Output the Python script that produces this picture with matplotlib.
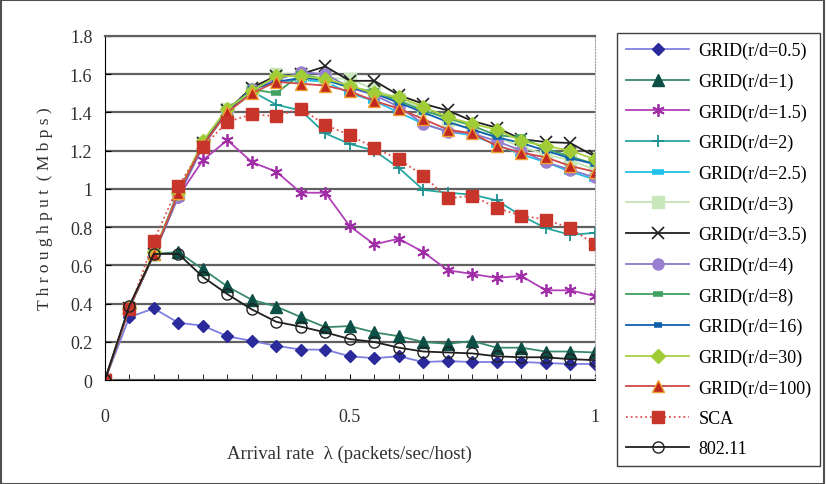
import matplotlib
matplotlib.use("Agg")
import matplotlib.pyplot as plt
from matplotlib.patches import Rectangle
from matplotlib.ticker import MultipleLocator

plt.rcParams['font.family'] = ['Liberation Serif', 'DejaVu Serif']

# Arrival rate (packets/sec/host)
rate = [0.0, 0.05, 0.1, 0.15, 0.2, 0.25, 0.3, 0.35, 0.4, 0.45, 0.5,
        0.55, 0.6, 0.65, 0.7, 0.75, 0.8, 0.85, 0.9, 0.95, 1.0]

# Throughput (Mbps) per scheme
grid_0_5 = [0, 0.33, 0.375, 0.30, 0.285, 0.23, 0.205, 0.18, 0.16, 0.16, 0.125,
            0.115, 0.125, 0.095, 0.10, 0.095, 0.095, 0.095, 0.09, 0.085, 0.085]
grid_1 = [0, 0.38, 0.66, 0.67, 0.58, 0.49, 0.42, 0.385, 0.33, 0.277, 0.283,
          0.25, 0.23, 0.20, 0.19, 0.205, 0.17, 0.17, 0.15, 0.15, 0.145]
grid_1_5 = [0, 0.38, 0.66, 0.96, 1.15, 1.255, 1.14, 1.09, 0.98, 0.98, 0.805,
            0.71, 0.74, 0.67, 0.575, 0.555, 0.535, 0.545, 0.47, 0.47, 0.44]
grid_2 = [0, 0.38, 0.66, 0.99, 1.23, 1.40, 1.51, 1.44, 1.41, 1.29, 1.235,
          1.20, 1.11, 0.995, 0.98, 0.97, 0.94, 0.86, 0.795, 0.76, 0.77]
grid_2_5 = [0, 0.38, 0.66, 0.98, 1.23, 1.41, 1.52, 1.56, 1.57, 1.56, 1.50,
            1.46, 1.40, 1.34, 1.30, 1.28, 1.23, 1.18, 1.14, 1.09, 1.05]
grid_3 = [0, 0.38, 0.66, 0.98, 1.24, 1.42, 1.52, 1.60, 1.60, 1.58, 1.575,
          1.52, 1.47, 1.42, 1.36, 1.31, 1.27, 1.22, 1.18, 1.15, 1.10]
grid_3_5 = [0, 0.38, 0.66, 0.97, 1.24, 1.41, 1.53, 1.59, 1.60, 1.64, 1.565,
            1.565, 1.49, 1.445, 1.41, 1.355, 1.32, 1.26, 1.245, 1.24, 1.17]
grid_4 = [0, 0.38, 0.66, 0.96, 1.22, 1.41, 1.52, 1.57, 1.61, 1.60, 1.53,
          1.49, 1.43, 1.34, 1.30, 1.29, 1.25, 1.20, 1.14, 1.10, 1.06]
grid_8 = [0, 0.38, 0.66, 0.98, 1.24, 1.41, 1.52, 1.50, 1.60, 1.57, 1.53,
          1.51, 1.46, 1.41, 1.37, 1.33, 1.28, 1.27, 1.21, 1.17, 1.13]
grid_16 = [0, 0.38, 0.66, 0.98, 1.23, 1.41, 1.52, 1.56, 1.58, 1.57, 1.53,
           1.50, 1.45, 1.40, 1.35, 1.31, 1.27, 1.24, 1.20, 1.16, 1.13]
grid_30 = [0, 0.38, 0.67, 0.98, 1.25, 1.42, 1.51, 1.59, 1.59, 1.575, 1.54,
           1.50, 1.48, 1.43, 1.375, 1.34, 1.31, 1.25, 1.225, 1.20, 1.155]
grid_100 = [0, 0.38, 0.66, 0.98, 1.23, 1.40, 1.50, 1.56, 1.55, 1.54, 1.51,
            1.46, 1.42, 1.365, 1.31, 1.29, 1.225, 1.19, 1.165, 1.12, 1.09]
sca = [0, 0.37, 0.73, 1.015, 1.22, 1.35, 1.39, 1.38, 1.42, 1.335, 1.28,
       1.215, 1.155, 1.07, 0.95, 0.965, 0.90, 0.86, 0.84, 0.795, 0.71]
dot11 = [0, 0.39, 0.66, 0.66, 0.54, 0.45, 0.37, 0.305, 0.28, 0.25, 0.215,
         0.20, 0.17, 0.15, 0.145, 0.14, 0.125, 0.12, 0.12, 0.11, 0.105]

series = [
    ("GRID(r/d=0.5)", grid_0_5, dict(color='#7f7fe0', marker='D', ms=6, mfc='#2a2a9a', mec='#2a2a9a')),
    ("GRID(r/d=1)", grid_1, dict(color='#3a8a6a', marker='^', ms=8, mfc='#0b4f46', mec='#0b4f46')),
    ("GRID(r/d=1.5)", grid_1_5, dict(color='#b040b8', marker=(6, 2, 0), ms=9, mec='#a02ca8', mew=1.3)),
    ("GRID(r/d=2)", grid_2, dict(color='#26a6a0', marker='+', ms=9, mec='#1a9090', mew=1.3)),
    ("GRID(r/d=2.5)", grid_2_5, dict(color='#22c0e8', marker='_', ms=9, mec='#22c0e8', mew=4)),
    ("GRID(r/d=3)", grid_3, dict(color='#c4e4b4', marker='s', ms=8, mfc='#c8e8bc', mec='#c8e8bc')),
    ("GRID(r/d=3.5)", grid_3_5, dict(color='#202020', marker='x', ms=8, mec='#202020', mew=1.2)),
    ("GRID(r/d=4)", grid_4, dict(color='#8878c8', marker='o', ms=8, mfc='#9a80d0', mec='#9a80d0')),
    ("GRID(r/d=8)", grid_8, dict(color='#40a060', marker='_', ms=7, mec='#40a060', mew=4)),
    ("GRID(r/d=16)", grid_16, dict(color='#1060b0', marker='_', ms=6, mec='#1060b0', mew=4)),
    ("GRID(r/d=30)", grid_30, dict(color='#a8d040', marker='D', ms=7, mfc='#a0cc38', mec='#a0cc38')),
    ("GRID(r/d=100)", grid_100, dict(color='#d04848', marker='^', ms=8, mfc='#c02820', mec='#f0a030')),
    ("SCA", sca, dict(color='#e05050', ls=':', marker='s', ms=9, mfc='#c8352a', mec='#c8352a')),
    ("802.11", dot11, dict(color='#202020', marker='o', ms=8, mfc='none', mec='#202020')),
]

fig = plt.figure(figsize=(8.26, 4.85), dpi=100)
ax = fig.add_axes([0.127, 0.214, 0.593, 0.71])

for label, vals, style in series:
    ax.plot(rate, vals, label=label, lw=1.3, **style)

ax.set_xlim(0, 1)
ax.set_ylim(0, 1.8)
ax.set_xticks([0, 0.5, 1])
ax.set_xticklabels(['0', '0.5', '1'])
ax.xaxis.set_minor_locator(MultipleLocator(0.05))
ax.set_yticks([0, 0.2, 0.4, 0.6, 0.8, 1.0, 1.2, 1.4, 1.6, 1.8])
ax.set_yticklabels(['0', '0.2', '0.4', '0.6', '0.8', '1', '1.2', '1.4', '1.6', '1.8'])
ax.tick_params(axis='x', which='both', direction='in', length=4, pad=20, labelsize=13,
               labelcolor='#303030')
ax.tick_params(axis='y', direction='in', length=4, pad=9, labelsize=13,
               labelcolor='#303030')
ax.yaxis.grid(True, color='#606060', lw=1.6)
ax.set_axisbelow(True)
ax.spines['right'].set_linestyle(':')
ax.spines['right'].set_color('#a0a0a0')
ax.spines['top'].set_color('#606060')
ax.spines['top'].set_linewidth(1.6)

ax.set_xlabel('Arrival rate  λ (packets/sec/host)', fontsize=13.5, labelpad=14,
              color='#303030')
ax.set_ylabel('T h r o u g h p u t  ( M b p s )', fontsize=12.5, labelpad=12,
              color='#303030')

fig.legend(loc='upper left', bbox_to_anchor=(0.747, 0.93), fontsize=13,
           labelspacing=0.74, handlelength=3.5, handletextpad=0.5, borderpad=0.5,
           borderaxespad=0, fancybox=False, edgecolor='#404040', framealpha=1)

fig.add_artist(Rectangle((0.001, 0.001), 0.997, 0.997, transform=fig.transFigure,
                         fill=False, edgecolor='#505050', lw=1.5))

fig.savefig('out.png', dpi=100)
